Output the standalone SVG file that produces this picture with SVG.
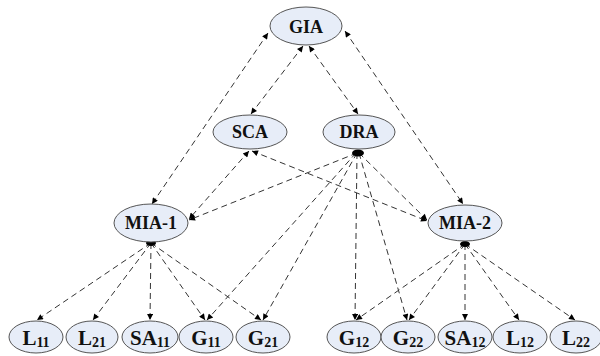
<svg xmlns="http://www.w3.org/2000/svg" width="600" height="356" viewBox="0 0 600 356" font-family="'Liberation Serif', 'Times New Roman', Times, serif">
<style>
.n ellipse{fill:#e7edf8;stroke:#555;stroke-width:1}
.n text{font-family:'Liberation Serif','Times New Roman',Times,serif;font-weight:bold;fill:#111;text-anchor:middle}
.t{font-size:18px}
.b{font-size:21px}
.s{font-size:14px}
.e line{stroke:#333;stroke-width:1;stroke-dasharray:6,4;fill:none}
</style>
<defs>
<marker id="ah" viewBox="0 0 10 10" refX="10" refY="5" markerWidth="8" markerHeight="6" markerUnits="userSpaceOnUse" orient="auto-start-reverse">
<path d="M0,0 L10,5 L0,10 Z" fill="#000"/>
</marker>
</defs>
<g id="connectors" class="e">
<line x1="268" y1="33" x2="152" y2="204" marker-start="url(#ah)" marker-end="url(#ah)"/>
<line x1="303" y1="46" x2="251" y2="114" marker-start="url(#ah)" marker-end="url(#ah)"/>
<line x1="309" y1="46" x2="358" y2="114" marker-start="url(#ah)" marker-end="url(#ah)"/>
<line x1="345" y1="31" x2="463" y2="204" marker-start="url(#ah)" marker-end="url(#ah)"/>
<line x1="249" y1="151" x2="189" y2="219" marker-start="url(#ah)" marker-end="url(#ah)"/>
<line x1="252" y1="151" x2="427" y2="221" marker-start="url(#ah)" marker-end="url(#ah)"/>
<line x1="357" y1="153" x2="189" y2="220" marker-end="url(#ah)"/>
<line x1="359" y1="153" x2="427" y2="220" marker-end="url(#ah)"/>
<line x1="356" y1="153" x2="207" y2="320" marker-end="url(#ah)"/>
<line x1="357" y1="153" x2="263" y2="320" marker-end="url(#ah)"/>
<line x1="357" y1="153" x2="355" y2="320" marker-end="url(#ah)"/>
<line x1="359" y1="153" x2="407" y2="320" marker-end="url(#ah)"/>
<line x1="151" y1="243" x2="37" y2="320" marker-end="url(#ah)"/>
<line x1="151" y1="243" x2="93" y2="320" marker-end="url(#ah)"/>
<line x1="151" y1="243" x2="150" y2="320" marker-end="url(#ah)"/>
<line x1="151" y1="243" x2="205" y2="320" marker-end="url(#ah)"/>
<line x1="151" y1="243" x2="261" y2="320" marker-end="url(#ah)"/>
<line x1="465" y1="244" x2="356" y2="320" marker-end="url(#ah)"/>
<line x1="465" y1="244" x2="409" y2="320" marker-end="url(#ah)"/>
<line x1="465" y1="244" x2="465" y2="320" marker-end="url(#ah)"/>
<line x1="465" y1="244" x2="519" y2="320" marker-end="url(#ah)"/>
<line x1="465" y1="244" x2="575" y2="320" marker-end="url(#ah)"/>
<ellipse cx="358" cy="153" rx="6" ry="3.5" fill="#000"/>
<ellipse cx="151" cy="243" rx="5" ry="3" fill="#000"/>
<ellipse cx="465" cy="244" rx="5" ry="3" fill="#000"/>
</g>
<g id="GIA" class="n"><ellipse cx="306" cy="26" rx="36" ry="19"/><text class="t" x="306" y="33">GIA</text></g>
<g id="SCA" class="n"><ellipse cx="250" cy="132" rx="37" ry="17"/><text class="t" x="250" y="138">SCA</text></g>
<g id="DRA" class="n"><ellipse cx="359" cy="132" rx="36" ry="17"/><text class="t" x="359" y="138">DRA</text></g>
<g id="MIA-1" class="n"><ellipse cx="151" cy="223" rx="37" ry="19"/><text class="t" x="151" y="229">MIA-1</text></g>
<g id="MIA-2" class="n"><ellipse cx="465" cy="223" rx="37" ry="18"/><text class="t" x="465" y="229">MIA-2</text></g>
<g id="L11" class="n"><ellipse cx="36" cy="337" rx="27" ry="16"/><text class="b" x="36" y="345">L<tspan class="s" dy="2">11</tspan></text></g>
<g id="L21" class="n"><ellipse cx="92" cy="337" rx="26" ry="16"/><text class="b" x="92" y="345">L<tspan class="s" dy="2">21</tspan></text></g>
<g id="SA11" class="n"><ellipse cx="150" cy="337" rx="28" ry="16"/><text class="b" x="150" y="345">SA<tspan class="s" dy="2">11</tspan></text></g>
<g id="G11" class="n"><ellipse cx="206" cy="337" rx="27" ry="16"/><text class="b" x="206" y="345">G<tspan class="s" dy="2">11</tspan></text></g>
<g id="G21" class="n"><ellipse cx="263" cy="337" rx="27" ry="16"/><text class="b" x="263" y="345">G<tspan class="s" dy="2">21</tspan></text></g>
<g id="G12" class="n"><ellipse cx="354" cy="337" rx="27" ry="16"/><text class="b" x="354" y="345">G<tspan class="s" dy="2">12</tspan></text></g>
<g id="G22" class="n"><ellipse cx="408" cy="337" rx="27" ry="16"/><text class="b" x="408" y="345">G<tspan class="s" dy="2">22</tspan></text></g>
<g id="SA12" class="n"><ellipse cx="465" cy="337" rx="27" ry="16"/><text class="b" x="465" y="345">SA<tspan class="s" dy="2">12</tspan></text></g>
<g id="L12" class="n"><ellipse cx="520" cy="337" rx="27" ry="16"/><text class="b" x="520" y="345">L<tspan class="s" dy="2">12</tspan></text></g>
<g id="L22" class="n"><ellipse cx="576" cy="337" rx="26" ry="16"/><text class="b" x="576" y="345">L<tspan class="s" dy="2">22</tspan></text></g>
</svg>
